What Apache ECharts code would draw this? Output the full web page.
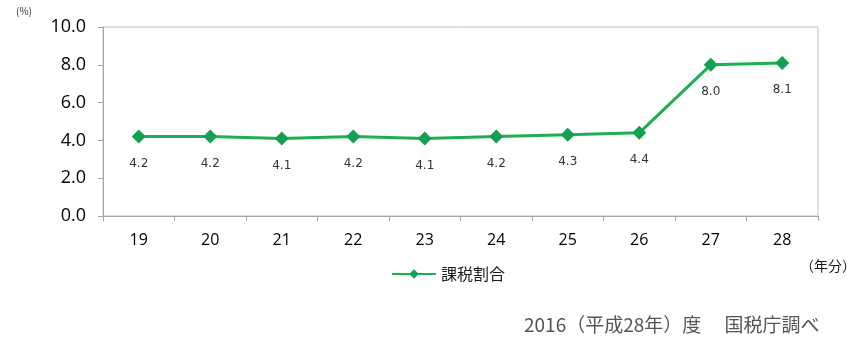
<!DOCTYPE html>
<html><head><meta charset="utf-8">
<script src="https://cdn.jsdelivr.net/npm/echarts@6/dist/echarts.min.js"></script>
<style>html,body{margin:0;padding:0;background:#fff}#c{width:856px;height:356px}</style>
</head><body><div id="c"></div>
<script>
const categories = ['19','20','21','22','23','24','25','26','27','28'];
const taxRate = [4.2, 4.2, 4.1, 4.2, 4.1, 4.2, 4.3, 4.4, 8.0, 8.1];
const seriesName = '課税割合';
const yTicks = {min: 0, max: 10, interval: 2};

const chart = echarts.init(document.getElementById('c'), null, {renderer: 'canvas'});
const font = "Verdana, 'DejaVu Sans', sans-serif";
chart.setOption({
  animation: false,
  textStyle: {fontFamily: font},
  grid: {left: 103, right: 38, top: 27, bottom: 140, show: true, borderColor: '#c0c0c0', borderWidth: 1},
  xAxis: {
    type: 'category', data: categories, boundaryGap: true,
    axisLine: {lineStyle: {color: '#a6a6a6', width: 1}},
    axisTick: {show: true, length: 5, lineStyle: {color: '#a6a6a6'}},
    axisLabel: {color: '#000', fontSize: 16, margin: 16, fontFamily: "'Open Sans', 'Noto Sans', sans-serif"},
    splitLine: {show: false}
  },
  yAxis: {
    type: 'value', min: yTicks.min, max: yTicks.max, interval: yTicks.interval,
    axisLine: {show: true, lineStyle: {color: '#a6a6a6', width: 1}},
    axisTick: {show: true, length: 5, lineStyle: {color: '#a6a6a6'}},
    axisLabel: {color: '#000', fontSize: 18, margin: 17, fontFamily: "'Open Sans', 'Noto Sans', sans-serif",
      formatter: v => v.toFixed(1)},
    splitLine: {show: false}
  },
  legend: {
    data: [seriesName], left: 386, top: 261, itemWidth: 44, itemHeight: 12, itemGap: 4,
    textStyle: {fontSize: 16, color: '#1a1a1a', fontFamily: "'Noto Sans CJK JP', sans-serif"}
  },
  series: [{
    name: seriesName, type: 'line', data: taxRate,
    symbol: 'diamond', symbolSize: 14,
    lineStyle: {color: '#1fae51', width: 3},
    itemStyle: {color: '#13a050'},
    label: {show: true, position: 'bottom', distance: 14, fontSize: 12, color: '#333',
      fontFamily: "Verdana, 'DejaVu Sans', sans-serif", formatter: p => p.value.toFixed(1)}
  }],
  graphic: [
    {type: 'text', left: 16, top: 6, style: {text: '(%)', fontSize: 10, fill: '#333', fontFamily: "'Noto Sans CJK JP', sans-serif"}},
    {type: 'text', left: 800, top: 259, style: {text: '（年分）', fontSize: 14, fill: '#1a1a1a', fontFamily: "'Noto Sans CJK JP', sans-serif"}},
    {type: 'text', left: 524, top: 315, style: {text: '2016（平成28年）度　 国税庁調べ', fontSize: 19, fill: '#555', fontFamily: "'Noto Sans CJK JP', sans-serif"}}
  ]
});
</script></body></html>
